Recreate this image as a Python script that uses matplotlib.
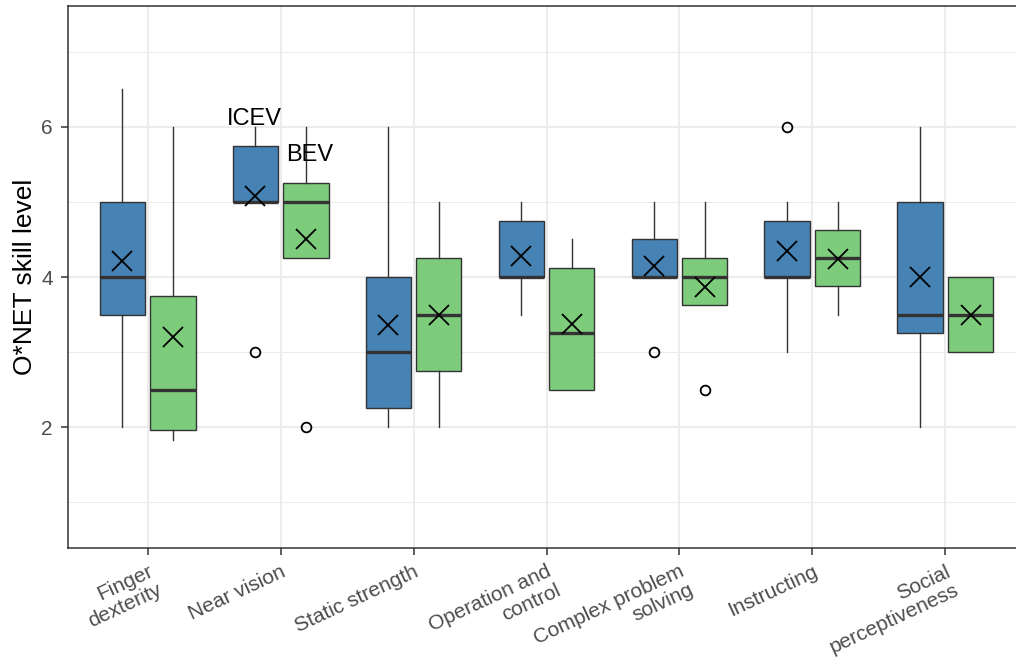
import matplotlib.pyplot as plt
from matplotlib.ticker import MultipleLocator

plt.rcParams['font.family'] = ['Liberation Sans', 'DejaVu Sans']

skills = ["Finger\ndexterity", "Near vision", "Static strength", "Operation and\ncontrol",
          "Complex problem\nsolving", "Instructing", "Social\nperceptiveness"]

# box statistics, one value per skill
icev_whislo = [2.0, 5.0, 2.0, 3.5, 4.0, 3.0, 2.0]
icev_q1 = [3.5, 5.0, 2.25, 4.0, 4.0, 4.0, 3.25]
icev_med = [4.0, 5.0, 3.0, 4.0, 4.0, 4.0, 3.5]
icev_q3 = [5.0, 5.75, 4.0, 4.75, 4.5, 4.75, 5.0]
icev_whishi = [6.5, 6.0, 6.0, 5.0, 5.0, 5.0, 6.0]
icev_mean = [4.21, 5.08, 3.36, 4.28, 4.14, 4.35, 4.0]
icev_fliers = [[], [3.0], [], [], [3.0], [6.0], []]

bev_whislo = [1.83, 4.25, 2.0, 2.5, 3.625, 3.5, 3.0]
bev_q1 = [1.96, 4.25, 2.75, 2.5, 3.625, 3.875, 3.0]
bev_med = [2.5, 5.0, 3.5, 3.25, 4.0, 4.25, 3.5]
bev_q3 = [3.75, 5.25, 4.25, 4.125, 4.25, 4.625, 4.0]
bev_whishi = [6.0, 6.0, 5.0, 4.5, 5.0, 5.0, 4.0]
bev_mean = [3.2, 4.5, 3.5, 3.37, 3.87, 4.24, 3.5]
bev_fliers = [[], [2.0], [], [], [2.5], [], []]

icev_color = "#4682B4"
bev_color = "#7DCC7B"
edge = "#333333"

fig = plt.figure(figsize=(10.16, 6.65), dpi=100)
ax = fig.add_axes([68 / 1016, 117 / 665, 957 / 1016, 542 / 665])

ax.set_xlim(0.4, 7.6)
ax.set_ylim(0.387, 7.613)
ax.yaxis.set_major_locator(MultipleLocator(2))
ax.yaxis.set_minor_locator(MultipleLocator(1))
ax.set_xticks(range(1, 8))
ax.grid(True, which='major', color='#EBEBEB', lw=1.3, zorder=0)
ax.grid(True, which='minor', axis='y', color='#EBEBEB', lw=0.7, zorder=0)
ax.set_axisbelow(True)


def stats(lo, q1, med, q3, hi, mean, fl):
    return [dict(whislo=lo[i], q1=q1[i], med=med[i], q3=q3[i], whishi=hi[i],
                 mean=mean[i], fliers=fl[i]) for i in range(len(lo))]


groups = [
    (stats(icev_whislo, icev_q1, icev_med, icev_q3, icev_whishi, icev_mean, icev_fliers), -0.19, icev_color),
    (stats(bev_whislo, bev_q1, bev_med, bev_q3, bev_whishi, bev_mean, bev_fliers), 0.19, bev_color),
]

for st, off, col in groups:
    pos = [i + 1 + off for i in range(len(st))]
    ax.bxp(st, positions=pos, widths=0.34, patch_artist=True, showmeans=True,
           showcaps=False, manage_ticks=False,
           boxprops=dict(facecolor=col, edgecolor=edge, lw=1.0),
           medianprops=dict(color=edge, lw=2.4, solid_capstyle='butt'),
           whiskerprops=dict(color=edge, lw=1.0),
           flierprops=dict(marker='o', markerfacecolor='none', markeredgecolor='black',
                           markersize=7, markeredgewidth=1.3),
           meanprops=dict(marker='x', markeredgecolor='black', markersize=15,
                          markeredgewidth=1.3), zorder=3)

ax.text(1.8, 6.1, "ICEV", fontsize=17, ha='center', va='center', color='black')
ax.text(2.22, 5.63, "BEV", fontsize=17, ha='center', va='center', color='black')

ax.set_xticklabels(skills, rotation=25, ha='right', va='top', rotation_mode='anchor',
                   fontsize=15, color='#4D4D4D')
for t in ax.get_xticklabels():
    t.set_multialignment('right')
    t.set_linespacing(1.1)
for t in ax.get_yticklabels():
    t.set_fontsize(15)
    t.set_color('#4D4D4D')
ax.tick_params(which='major', length=5, width=1.1, color=edge)
ax.tick_params(axis='x', pad=5)
ax.tick_params(axis='y', pad=6)
ax.tick_params(which='minor', length=0)
ax.set_ylabel("O*NET skill level", fontsize=19, color='black', labelpad=3)
for s in ax.spines.values():
    s.set_color(edge)
    s.set_linewidth(1.1)

fig.savefig("out.png", dpi=100)
